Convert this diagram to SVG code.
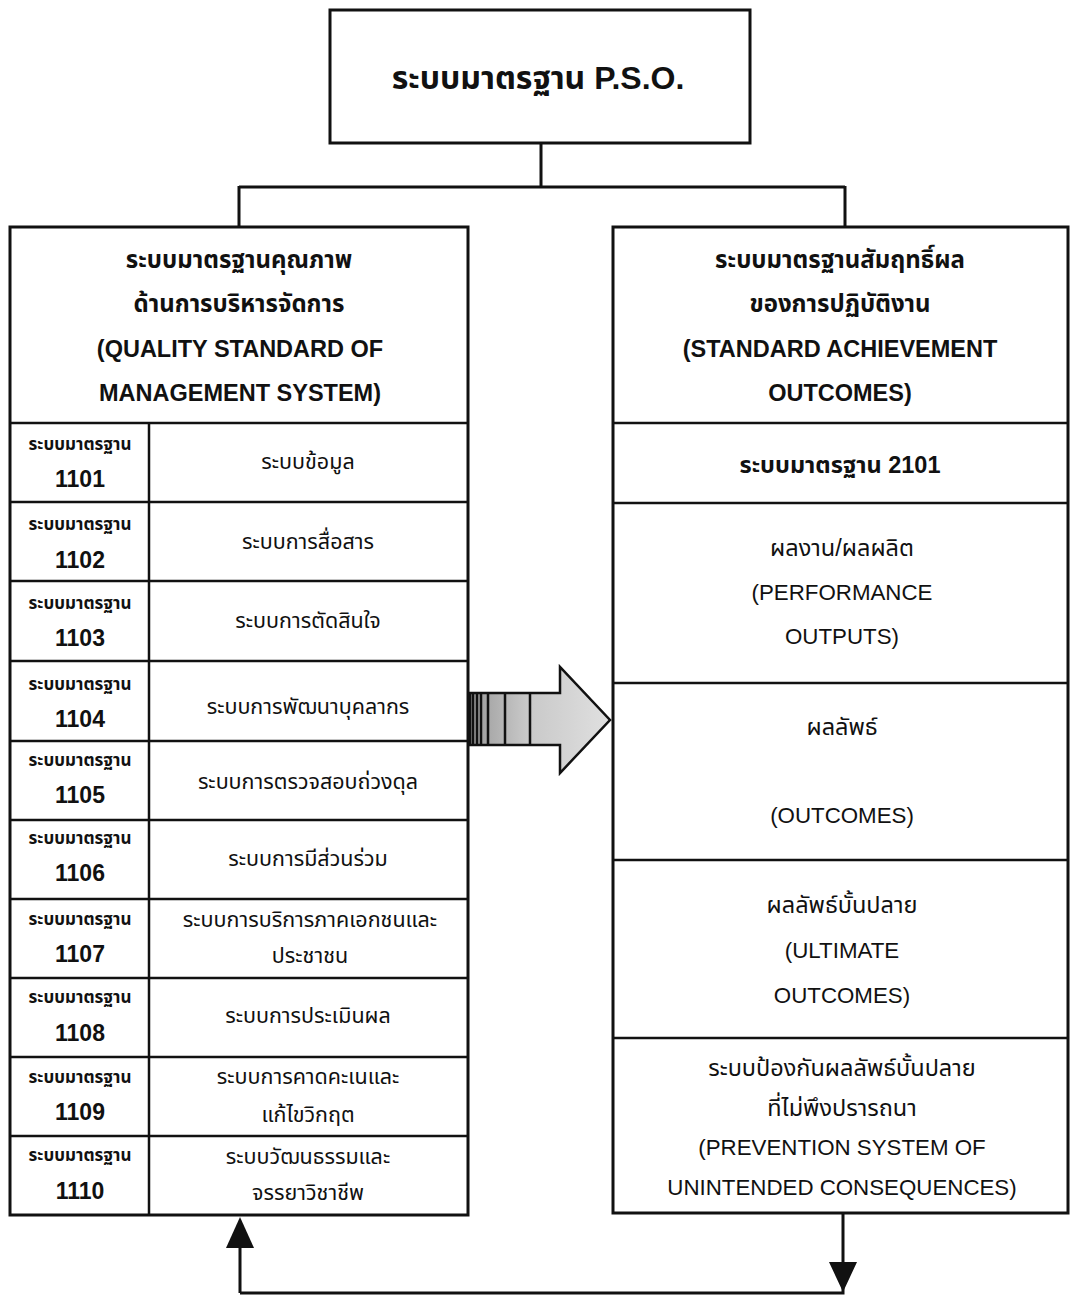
<svg xmlns="http://www.w3.org/2000/svg" width="1070" height="1297" viewBox="0 0 1070 1297">
<style>
.box{fill:#fff;stroke:#111;stroke-width:3}
.div{stroke:#111;stroke-width:2.5;fill:none}
.con{stroke:#111;stroke-width:3;fill:none}
text{font-family:"Liberation Sans","Noto Sans Thai","Noto Sans",sans-serif;fill:#111;text-anchor:middle}
.b{font-weight:bold}
.t1{font-size:32px;font-weight:bold}
.h{font-size:24px;font-weight:bold}
.he{font-size:23.5px;font-weight:bold}
.lab{font-size:17px;font-weight:bold}
.num{font-size:23px;font-weight:bold}
.cell{font-size:21.5px}
.r{font-size:23.5px}
.re{font-size:22.3px}
</style>
<defs>
<linearGradient id="ag" x1="0" y1="0" x2="1" y2="0">
<stop offset="0" stop-color="#9a9a9a"/>
<stop offset="0.4" stop-color="#c8c8c8"/>
<stop offset="1" stop-color="#e0e0e0"/>
</linearGradient>
</defs>
<rect width="1070" height="1297" fill="#fff"/>

<g id="connectors">
<path class="con" d="M541,143 V187 M239,187 H845 M239,186 V227 M845,186 V227"/>
<path class="con" d="M843,1213 V1265 M240,1293 H843 V1265 M240,1293 V1245"/>
<path d="M829,1262 L857,1262 L843,1292 z" fill="#111"/>
<path d="M226,1248 L254,1248 L240,1217 z" fill="#111"/>
</g>

<g id="big-arrow">
<path d="M470,693 H560 V667 L610,720 L560,773 V745 H470 z" fill="url(#ag)" stroke="#111" stroke-width="2.5"/>
<path d="M473,694 V744 M477,694 V744 M481,694 V744 M488,694 V744 M505,694 V744 M530,694 V744" stroke="#111" stroke-width="2.5"/>
</g>

<g id="root">
<rect class="box" x="330" y="10" width="420" height="133"/>
<text class="t1" x="538" y="89">ระบบมาตรฐาน P.S.O.</text>
</g>

<g id="left-system">
<rect class="box" x="10" y="227" width="458" height="988"/>
<text class="h" x="239" y="268">ระบบมาตรฐานคุณภาพ</text>
<text class="h" x="239" y="312">ด้านการบริหารจัดการ</text>
<text class="he" x="240" y="357">(QUALITY STANDARD OF</text>
<text class="he" x="240" y="401">MANAGEMENT SYSTEM)</text>
<path class="div" d="M10,423 H468 M10,502 H468 M10,581 H468 M10,661 H468 M10,741 H468 M10,820 H468 M10,899 H468 M10,978 H468 M10,1057 H468 M10,1136 H468 M149,423 V1215"/>
</g>

<g id="s1101"><text class="lab" x="80" y="450">ระบบมาตรฐาน</text><text class="num" x="80" y="487">1101</text><text class="cell" x="308" y="469">ระบบข้อมูล</text></g>
<g id="s1102"><text class="lab" x="80" y="530">ระบบมาตรฐาน</text><text class="num" x="80" y="568">1102</text><text class="cell" x="308" y="549">ระบบการสื่อสาร</text></g>
<g id="s1103"><text class="lab" x="80" y="609">ระบบมาตรฐาน</text><text class="num" x="80" y="646">1103</text><text class="cell" x="308" y="628">ระบบการตัดสินใจ</text></g>
<g id="s1104"><text class="lab" x="80" y="690">ระบบมาตรฐาน</text><text class="num" x="80" y="727">1104</text><text class="cell" x="308" y="714">ระบบการพัฒนาบุคลากร</text></g>
<g id="s1105"><text class="lab" x="80" y="766">ระบบมาตรฐาน</text><text class="num" x="80" y="803">1105</text><text class="cell" x="308" y="789">ระบบการตรวจสอบถ่วงดุล</text></g>
<g id="s1106"><text class="lab" x="80" y="844">ระบบมาตรฐาน</text><text class="num" x="80" y="881">1106</text><text class="cell" x="308" y="866">ระบบการมีส่วนร่วม</text></g>
<g id="s1107"><text class="lab" x="80" y="925">ระบบมาตรฐาน</text><text class="num" x="80" y="962">1107</text><text class="cell" x="310" y="927">ระบบการบริการภาคเอกชนและ</text><text class="cell" x="310" y="963">ประชาชน</text></g>
<g id="s1108"><text class="lab" x="80" y="1003">ระบบมาตรฐาน</text><text class="num" x="80" y="1041">1108</text><text class="cell" x="308" y="1023">ระบบการประเมินผล</text></g>
<g id="s1109"><text class="lab" x="80" y="1083">ระบบมาตรฐาน</text><text class="num" x="80" y="1120">1109</text><text class="cell" x="308" y="1084">ระบบการคาดคะเนและ</text><text class="cell" x="308" y="1122">แก้ไขวิกฤต</text></g>
<g id="s1110"><text class="lab" x="80" y="1161">ระบบมาตรฐาน</text><text class="num" x="80" y="1199">1110</text><text class="cell" x="308" y="1164">ระบบวัฒนธรรมและ</text><text class="cell" x="308" y="1200">จรรยาวิชาชีพ</text></g>

<g id="right-system">
<rect class="box" x="613" y="227" width="455" height="986"/>
<text class="h" x="840" y="268">ระบบมาตรฐานสัมฤทธิ์ผล</text>
<text class="h" x="840" y="312">ของการปฏิบัติงาน</text>
<text class="he" x="840" y="357">(STANDARD ACHIEVEMENT</text>
<text class="he" x="840" y="401">OUTCOMES)</text>
<path class="div" d="M613,423 H1068 M613,503 H1068 M613,683 H1068 M613,860 H1068 M613,1038 H1068"/>
</g>
<g id="s2101"><text class="r b" x="840" y="473">ระบบมาตรฐาน 2101</text></g>
<g id="outputs"><text class="r" x="842" y="556">ผลงาน/ผลผลิต</text><text class="re" x="842" y="600">(PERFORMANCE</text><text class="re" x="842" y="644">OUTPUTS)</text></g>
<g id="outcomes"><text class="r" x="842" y="735">ผลลัพธ์</text><text class="re" x="842" y="823">(OUTCOMES)</text></g>
<g id="ultimate"><text class="r" x="842" y="913">ผลลัพธ์บั้นปลาย</text><text class="re" x="842" y="958">(ULTIMATE</text><text class="re" x="842" y="1003">OUTCOMES)</text></g>
<g id="prevention"><text class="r" x="842" y="1076">ระบบป้องกันผลลัพธ์บั้นปลาย</text><text class="r" x="842" y="1116">ที่ไม่พึงปรารถนา</text><text class="re" x="842" y="1155">(PREVENTION SYSTEM OF</text><text class="re" x="842" y="1195">UNINTENDED CONSEQUENCES)</text></g>
</svg>
